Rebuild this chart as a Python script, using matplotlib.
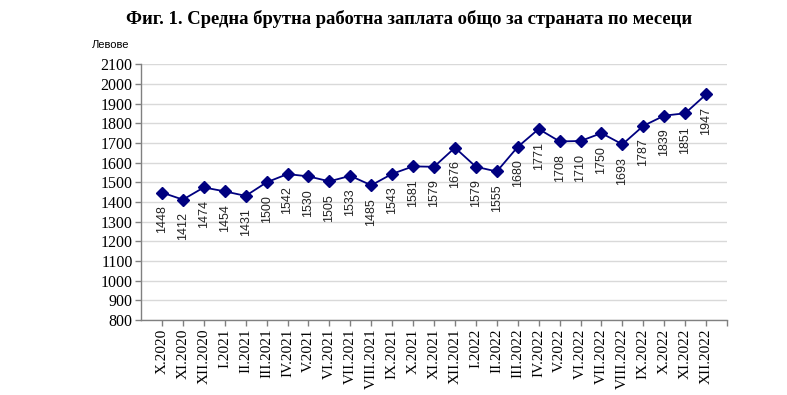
import matplotlib
matplotlib.use("Agg")
import matplotlib.pyplot as plt
import numpy as np

# months (roman numeral month . year)
months = ["X.2020", "XI.2020", "XII.2020",
          "I.2021", "II.2021", "III.2021", "IV.2021", "V.2021", "VI.2021",
          "VII.2021", "VIII.2021", "IX.2021", "X.2021", "XI.2021", "XII.2021",
          "I.2022", "II.2022", "III.2022", "IV.2022", "V.2022", "VI.2022",
          "VII.2022", "VIII.2022", "IX.2022", "X.2022", "XI.2022", "XII.2022"]
# average gross salary, leva
salary = [1448, 1412, 1474, 1454, 1431, 1500, 1542, 1530, 1505, 1533, 1485,
          1543, 1581, 1579, 1676, 1579, 1555, 1680, 1771, 1708, 1710, 1750,
          1693, 1787, 1839, 1851, 1947]

yticks = list(range(800, 2101, 100))

fig = plt.figure(figsize=(7.87, 3.95), dpi=100)
ax = fig.add_axes([0.1792, 0.1899, 0.7446, 0.6473])

x = np.arange(len(months))
ax.plot(x, salary, color="#000080", linewidth=1.3, marker="D", markersize=6,
        zorder=3)

# value labels, rotated, just under each point
for xi, v in zip(x, salary):
    ax.annotate(str(v), (xi, v), xytext=(0, -9), textcoords="offset points",
                rotation=90, ha="center", va="top", fontsize=9,
                family="Liberation Sans", color="#222222")

ax.set_xlim(-1, len(months))
ax.set_ylim(800, 2100)
ax.set_yticks(yticks)
ax.set_yticklabels([str(t) for t in yticks], family="Liberation Serif",
                   fontsize=11.5)
ax.set_xticks(np.arange(len(months) + 1))
ax.set_xticklabels(months + [""], rotation=90, family="Liberation Serif",
                   fontsize=11)

ax.grid(axis="y", color="#d9d9d9", linewidth=1)
ax.set_axisbelow(True)
for s in ["top", "right"]:
    ax.spines[s].set_visible(False)
for s in ["left", "bottom"]:
    ax.spines[s].set_color("#808080")
    ax.spines[s].set_linewidth(1)
ax.tick_params(axis="both", color="#808080", length=4, width=1, pad=2)

ax.text(-0.051, 1.075, "Левове", transform=ax.transAxes, ha="center",
        va="center", fontsize=8, family="Liberation Sans")

fig.text(0.52, 0.952, "Фиг. 1. Средна брутна работна заплата общо за страната по месеци",
         ha="center", va="center", fontsize=13.4, fontweight="bold",
         family="Liberation Serif")

fig.savefig("out.png", dpi=100)
